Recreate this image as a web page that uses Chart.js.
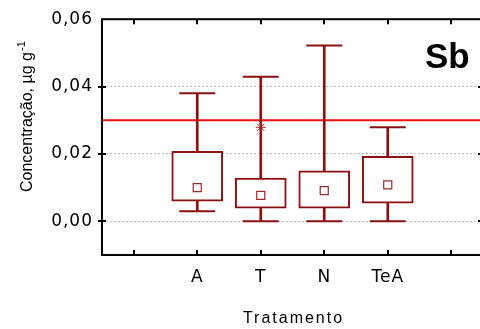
<!DOCTYPE html>
<html>
<head>
<meta charset="utf-8">
<script src="https://cdn.jsdelivr.net/npm/chart.js@4.4.0/dist/chart.umd.min.js"></script>
<style>
  html, body { margin: 0; padding: 0; background: #fff; overflow: hidden; }
  canvas { display: block; }
</style>
</head>
<body>
<canvas id="c" width="486" height="329"></canvas>
<script>
// Sb concentration per treatment (µg g-1): box-and-whisker summaries
const categories  = ['A', 'T', 'N', 'TeA'];
const whiskerLow  = [0.0030, 0.0000, 0.0000, 0.0000];
const boxLow      = [0.0060, 0.0039, 0.0039, 0.0054];
const boxHigh     = [0.0208, 0.0128, 0.0150, 0.0193];
const whiskerHigh = [0.0380, 0.0429, 0.0522, 0.0279];
const medians     = [0.0100, 0.0077, 0.0091, 0.0108];
const outliers    = [null,   0.0279, null,   null];
const referenceLimit = 0.03;
const yTicks = [0, 0.02, 0.04, 0.06];
const yMin = -0.01, yMax = 0.06;

const FONT = "'Liberation Sans', Arial, sans-serif";
const TICK_FONT = "'DejaVu Sans', 'Liberation Sans', sans-serif";
const DARK_RED = '#8b1010';

// one empty slot on each side of the treatments
const labels = ['', ...categories, ''];
const pad = arr => [null, ...arr, null];

const framePlugin = {
  id: 'frame',
  beforeDraw(chart) {
    const ctx = chart.ctx;
    ctx.save();
    ctx.fillStyle = '#fff';
    ctx.fillRect(0, 0, chart.width, chart.height);
    ctx.restore();
    ctx.letterSpacing = '1px';
  },
  beforeDatasetsDraw(chart) {
    const { ctx, chartArea: a, scales: { y } } = chart;
    const yy = y.getPixelForValue(referenceLimit);
    ctx.save();
    ctx.strokeStyle = '#ee1111';
    ctx.lineWidth = 2;
    ctx.beginPath();
    ctx.moveTo(a.left, yy);
    ctx.lineTo(a.right, yy);
    ctx.stroke();
    ctx.restore();
  },
  afterDatasetsDraw(chart) {
    const { ctx, chartArea: a, scales: { x, y } } = chart;
    ctx.save();
    ctx.strokeStyle = '#000';
    ctx.lineWidth = 2;
    ctx.strokeRect(a.left, a.top, a.right - a.left, a.bottom - a.top);
    ctx.beginPath();
    for (let i = 0; i < labels.length; i++) {
      const px = Math.round(x.getPixelForValue(i));
      ctx.moveTo(px, a.top); ctx.lineTo(px, a.top + 5);
      ctx.moveTo(px, a.bottom); ctx.lineTo(px, a.bottom - 5);
    }
    yTicks.forEach(v => {
      if (v >= yMax) return;
      const py = Math.round(y.getPixelForValue(v));
      ctx.moveTo(a.left - 4, py); ctx.lineTo(a.left + 4, py);
      ctx.moveTo(a.right, py); ctx.lineTo(a.right - 5, py);
    });
    ctx.stroke();
    ctx.restore();
  },
  afterDraw(chart) {
    const { ctx, chartArea: a } = chart;
    ctx.save();
    ctx.letterSpacing = '0px';
    ctx.fillStyle = '#000';

    // element label
    ctx.font = 'bold 35px ' + FONT;
    ctx.textAlign = 'left';
    ctx.textBaseline = 'alphabetic';
    ctx.fillText('Sb', 425, 68);

    // y axis title with superscript unit
    ctx.save();
    ctx.translate(32, 192);
    ctx.rotate(-Math.PI / 2);
    ctx.font = '16px ' + FONT;
    const main = 'Concentração, µg g';
    ctx.fillText(main, 0, 0);
    const w = ctx.measureText(main).width;
    ctx.font = '11px ' + FONT;
    ctx.fillText('-1', w + 1, -7);
    ctx.restore();

    // x axis title
    ctx.letterSpacing = '2px';
    ctx.font = '16px ' + FONT;
    ctx.textAlign = 'center';
    ctx.fillText('Tratamento', (a.left + a.right) / 2 + 1, 323);
    ctx.restore();
  }
};

new Chart(document.getElementById('c'), {
  data: {
    labels,
    datasets: [
      {
        type: 'bar', label: 'whisker', order: 5,
        data: pad(whiskerLow.map((v, i) => [v, whiskerHigh[i]])),
        backgroundColor: DARK_RED, borderWidth: 0,
        barThickness: 2, grouped: false
      },
      {
        type: 'line', label: 'min', order: 4, showLine: false,
        data: pad(whiskerLow),
        pointStyle: 'line', pointRadius: 18, pointBorderWidth: 2,
        pointBorderColor: DARK_RED
      },
      {
        type: 'line', label: 'max', order: 4, showLine: false,
        data: pad(whiskerHigh),
        pointStyle: 'line', pointRadius: 18, pointBorderWidth: 2,
        pointBorderColor: DARK_RED
      },
      {
        type: 'bar', label: 'box', order: 3,
        data: pad(boxLow.map((v, i) => [v, boxHigh[i]])),
        backgroundColor: '#fff', borderColor: DARK_RED, borderWidth: 2,
        borderSkipped: false, barThickness: 51, grouped: false
      },
      {
        type: 'line', label: 'median', order: 2, showLine: false,
        data: pad(medians),
        pointStyle: 'rect', pointRadius: 5.7, pointBorderWidth: 1.2,
        pointBorderColor: '#9e2a2a', pointBackgroundColor: '#fff'
      },
      {
        type: 'line', label: 'outlier', order: 1, showLine: false,
        data: pad(outliers),
        pointStyle: 'star', pointRadius: 5, pointBorderWidth: 1,
        pointBorderColor: '#a52a2a'
      }
    ]
  },
  options: {
    responsive: false,
    animation: false,
    events: [],
    layout: { autoPadding: false, padding: { top: 18, right: 3, left: 0, bottom: 0 } },
    plugins: { legend: { display: false }, tooltip: { enabled: false } },
    scales: {
      x: {
        type: 'category',
        offset: true,
        grid: { display: false, drawTicks: false },
        border: { display: false },
        ticks: {
          autoSkip: false, maxRotation: 0, padding: 12,
          color: '#000', font: { family: TICK_FONT, size: 17 }
        },
        afterFit(s) { s.height = 74; }
      },
      y: {
        type: 'linear',
        min: yMin, max: yMax,
        afterBuildTicks(s) { s.ticks = yTicks.map(value => ({ value })); },
        grid: { color: '#bdbdbd', lineWidth: 1, drawTicks: false },
        border: { display: false, dash: [2, 2] },
        ticks: {
          padding: 9, color: '#000', font: { family: TICK_FONT, size: 17 },
          callback: v => v.toFixed(2).replace('.', ',')
        },
        afterFit(s) { s.width = 102; }
      }
    }
  },
  plugins: [framePlugin]
});
</script>
</body>
</html>
